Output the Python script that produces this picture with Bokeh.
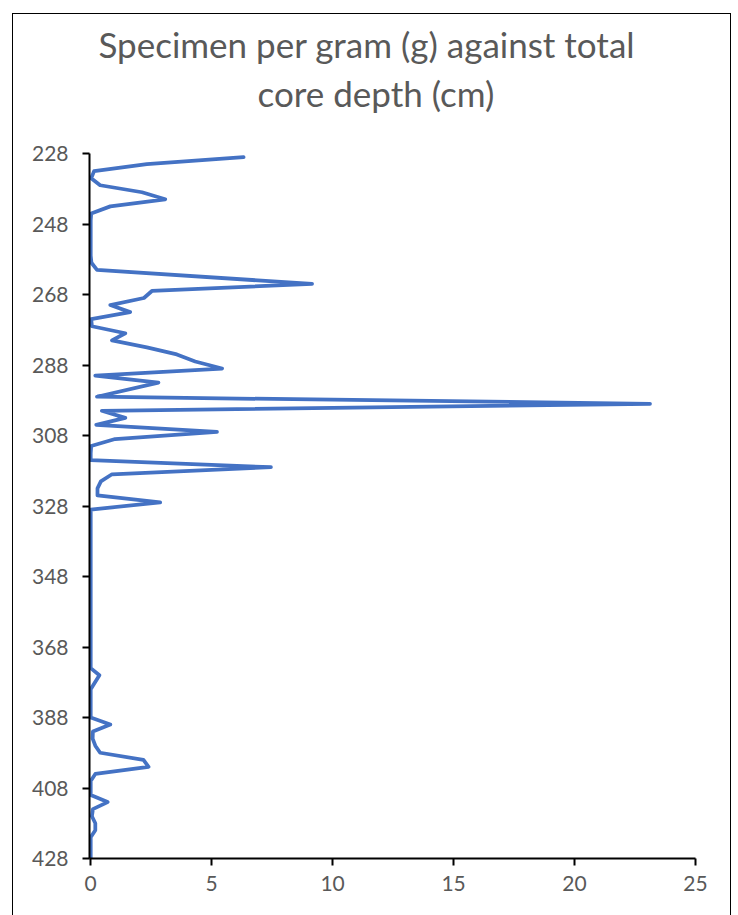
from bokeh.plotting import figure
from bokeh.models import Range1d, FixedTicker, Title
from bokeh.embed import file_html
from bokeh.resources import INLINE

# depth (cm) and specimens per gram
depth = [229, 231, 233, 235, 237, 239, 241, 243, 245, 247, 249, 251, 253, 255, 257,
         259, 261, 265, 267, 269, 271, 273, 275, 277, 279, 281, 283, 285, 287, 289,
         291, 293, 297, 299, 301, 303, 305, 307, 309, 311, 313, 315, 317, 319, 321,
         323, 325, 327, 329, 335, 345, 355, 365, 374, 376, 380, 384, 388, 390, 392,
         394, 396, 398, 400, 402, 404, 406, 408, 410, 412, 414, 416, 418, 420, 422,
         424, 426, 428]
value = [6.32, 2.32, 0.14, 0.02, 0.39, 2.12, 3.08, 0.81, 0.02, 0, 0, 0, 0, 0, 0,
         0.03, 0.26, 9.15, 2.53, 2.2, 0.81, 1.63, 0.02, 0.05, 1.43, 0.88, 2.32, 3.56, 4.32, 5.43,
         0.19, 2.8, 0.26, 23.12, 0.46, 1.43, 0.23, 5.22, 1.01, 0.02, 0, 0, 7.45, 0.88, 0.42,
         0.28, 0.28, 2.87, 0, 0, 0, 0, 0, 0, 0.36, 0, 0, 0, 0.81, 0.09,
         0.08, 0.19, 0.39, 2.18, 2.39, 0.19, 0, 0, 0, 0.7, 0.09, 0.05, 0.19, 0.19, 0,
         0, 0, 0]

y_ticks = [228, 248, 268, 288, 308, 328, 348, 368, 388, 408, 428]
x_ticks = [0, 5, 10, 15, 20, 25]
title_lines = ["Specimen per gram (g) against total", "core depth (cm)"]

FONT = "Lato"
GREY = "#595959"

p = figure(width=717, height=901, output_backend="svg", toolbar_location=None,
           x_range=Range1d(-0.05, 25), y_range=Range1d(428, 228),
           min_border_left=76, min_border_right=35, min_border_top=139, min_border_bottom=57,
           margin=(14, 0, 0, 13), styles={"outline": "1.5px solid #000000"})
p.outline_line_color = None
p.grid.visible = False

# spacer panel between the frame and the title lines
p.add_layout(Title(text=" ", text_font_size="1px", standoff=37), "above")
# second line first (closest to the frame), then the first line above it
for text, offset, standoff in ((title_lines[1], 168, 0), (title_lines[0], 9, 10)):
    p.add_layout(Title(text=text, align="left", offset=offset, standoff=standoff,
                       text_font=FONT, text_font_size="35px", text_font_style="normal",
                       text_color=GREY), "above")

p.line(value, depth, line_color="#4472C4", line_width=3.75, line_join="round", line_cap="round")

for ax, ticks in ((p.xaxis[0], x_ticks), (p.yaxis[0], y_ticks)):
    ax.ticker = FixedTicker(ticks=ticks)
    ax.axis_line_color = "#000000"
    ax.axis_line_width = 2
    ax.major_tick_line_color = "#000000"
    ax.major_tick_line_width = 2
    ax.major_tick_out = 7
    ax.major_tick_in = 0
    ax.minor_tick_line_color = None
    ax.major_label_text_font = FONT
    ax.major_label_text_font_size = "21px"
    ax.major_label_text_color = GREY
p.xaxis.major_label_standoff = 10
p.yaxis.major_label_standoff = 14

open("out.html", "w").write(file_html(p, INLINE))
